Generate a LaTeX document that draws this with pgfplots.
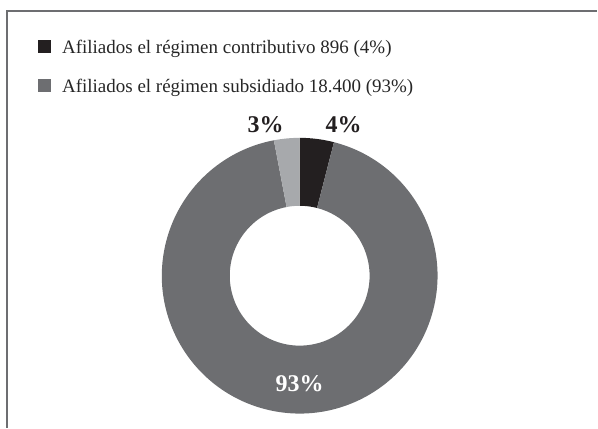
\documentclass[border=0pt]{standalone}
\usepackage{pgfplots}
\pgfplotsset{compat=1.18}
\usepackage{pgfplotstable}
\usepackage{fontspec}
\setmainfont{Liberation Serif}

\definecolor{cblack}{HTML}{231F20}
\definecolor{cgray}{HTML}{6D6E71}
\definecolor{clight}{HTML}{A7A9AC}
\definecolor{cframe}{HTML}{6D6E71}

\pgfplotstableread{
label pct
contributivo 4
subsidiado 93
otros 3
}\datatable

\pgfplotstablegetelem{0}{pct}\of\datatable \let\pA\pgfplotsretval
\pgfplotstablegetelem{1}{pct}\of\datatable \let\pB\pgfplotsretval
\pgfplotstablegetelem{2}{pct}\of\datatable \let\pC\pgfplotsretval
\pgfmathsetmacro{\aZ}{90}
\pgfmathsetmacro{\aA}{90-3.6*\pA}
\pgfmathsetmacro{\aB}{\aA-3.6*\pB}
\pgfmathsetmacro{\aC}{\aB-3.6*\pC}

\newcommand{\sector}[3]{% color, start, end
  \fill[#1] (axis cs:{300+138*cos(#2)},{152+138*sin(#2)})
    arc[start angle=#2, end angle=#3, radius=138pt]
    -- (axis cs:{300+70*cos(#3)},{152+70*sin(#3)})
    arc[start angle=#3, end angle=#2, radius=70pt] -- cycle;}

\begin{document}
\begin{tikzpicture}
\begin{axis}[
  x=1pt, y=1pt, disabledatascaling,
  xmin=0, xmax=598, ymin=0, ymax=428,
  hide axis, clip=false,
]
\path (axis cs:0,0) rectangle (axis cs:598,428);
\draw[cframe, line width=1.3pt] (axis cs:7,0) -- (axis cs:7,417) -- (axis cs:598,417);
\sector{cblack}{\aZ}{\aA}
\sector{cgray}{\aA}{\aB}
\sector{clight}{\aB}{\aC}
% legend
\fill[cblack] (axis cs:38.5,375) rectangle (axis cs:51,387.5);
\fill[cgray] (axis cs:38.5,336) rectangle (axis cs:51,348.5);
\node[anchor=base west, inner sep=0pt, text=black!85, font=\fontsize{19}{21}\selectfont]
  at (axis cs:62,374) {Afiliados el régimen contributivo 896 (4\%)};
\node[anchor=base west, inner sep=0pt, text=black!85, font=\fontsize{19}{21}\selectfont]
  at (axis cs:62,335.5) {Afiliados el régimen subsidiado 18.400 (93\%)};
% labels
\node[anchor=base, inner sep=0pt, text=cblack, font=\fontsize{24}{26}\selectfont\bfseries]
  at (axis cs:344,295) {4\%};
\node[anchor=base, inner sep=0pt, text=cblack, font=\fontsize{24}{26}\selectfont\bfseries]
  at (axis cs:266,295) {3\%};
\node[anchor=base, inner sep=0pt, text=white, font=\fontsize{24}{26}\selectfont\bfseries]
  at (axis cs:300,36) {93\%};
\end{axis}
\end{tikzpicture}
\end{document}
